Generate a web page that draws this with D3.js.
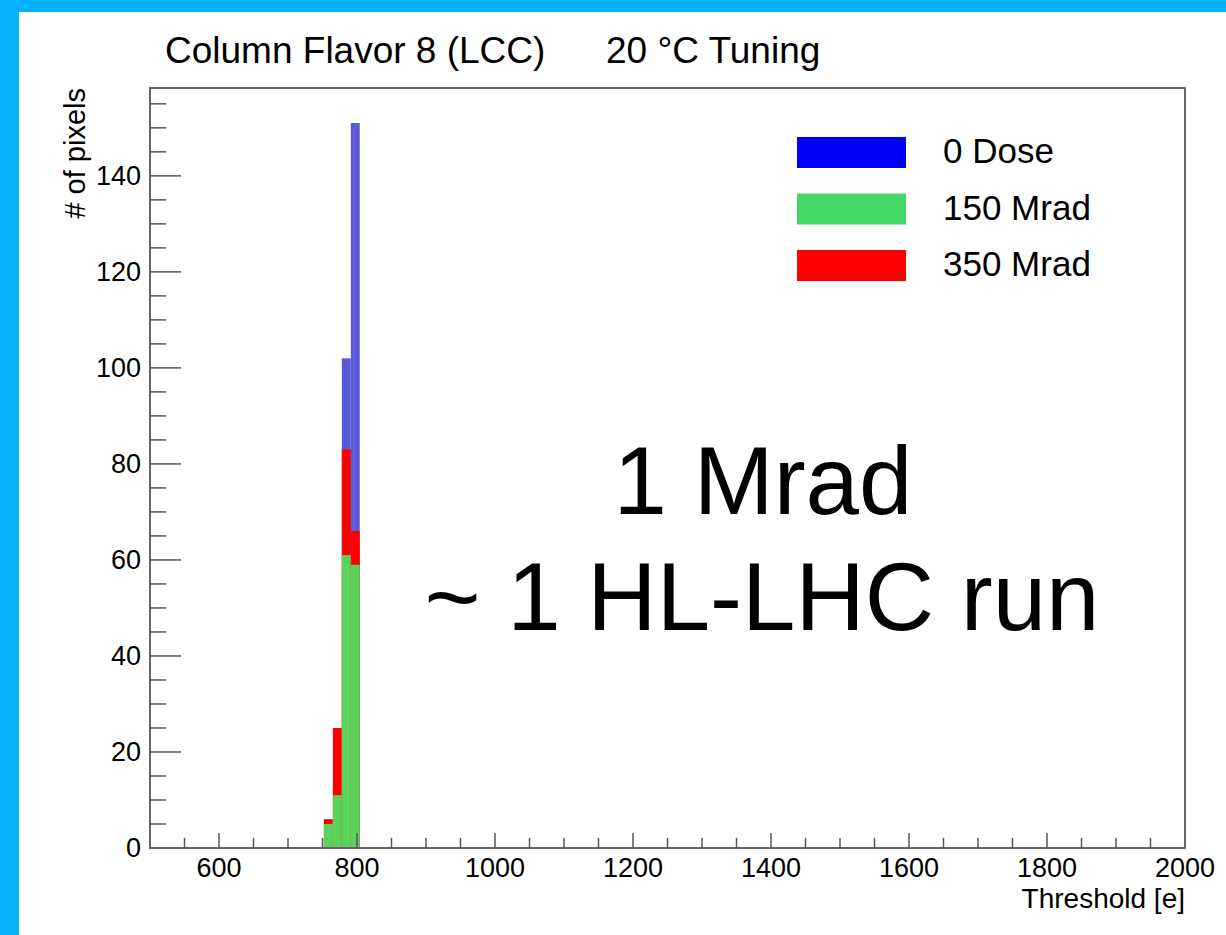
<!DOCTYPE html>
<html>
  <head>
    <meta charset="utf-8" />
    <title>Column Flavor 8 (LCC)</title>
    <script src="https://d3js.org/d3.v7.min.js"></script>
    <style>
      body { margin: 0; background: #fff; }
      text { font-family: 'Liberation Sans', Arial, sans-serif; fill: #000; }
    </style>
  </head>
  <body>
    <script>
      // histogram bins (threshold in electrons) and counts per dose
      const binEdges = [752, 765, 778, 791, 804];
      const dose0 = [0, 0, 102, 151];
      const dose150 = [5, 11, 61, 59];
      const dose350 = [6, 25, 83, 66];
      const xTicks = [600, 800, 1000, 1200, 1400, 1600, 1800, 2000];
      const yTicks = [0, 20, 40, 60, 80, 100, 120, 140];
      const legendLabels = ['0 Dose', '150 Mrad', '350 Mrad'];

      const W = 1226, H = 935;
      const margin = { top: 88, right: 41, bottom: 87, left: 150 };
      const w = W - margin.left - margin.right;
      const h = H - margin.top - margin.bottom;

      const svg = d3.select('body').append('svg')
        .attr('width', W)
        .attr('height', H);

      // blue slide frame
      svg.append('rect').attr('x', 0).attr('y', 0).attr('width', W).attr('height', 12).attr('fill', '#02b3fb');
      svg.append('rect').attr('x', 0).attr('y', 0).attr('width', 19).attr('height', H).attr('fill', '#02b3fb');

      const g = svg.append('g')
        .attr('transform', 'translate(' + margin.left + ',' + margin.top + ')');

      const x = d3.scaleLinear().domain([500, 2000]).range([0, w]);
      const y = d3.scaleLinear().domain([0, 158.3]).range([h, 0]);

      // histograms drawn over each other: blue, red, green
      const series = [
        { vals: dose0, color: '#5a5ad9' },
        { vals: dose350, color: '#ff0000' },
        { vals: dose150, color: '#5ad35a' },
      ];
      series.forEach(s => {
        g.selectAll(null)
          .data(s.vals)
          .enter()
          .append('rect')
          .attr('x', (d, i) => x(binEdges[i]))
          .attr('width', (d, i) => x(binEdges[i + 1]) - x(binEdges[i]))
          .attr('y', d => y(d))
          .attr('height', d => h - y(d))
          .attr('fill', s.color);
      });

      // frame
      g.append('rect')
        .attr('width', w).attr('height', h)
        .attr('fill', 'none')
        .attr('stroke', '#666')
        .attr('stroke-width', 2);

      // x axis ticks
      g.selectAll(null)
        .data(d3.range(550, 2000, 50))
        .enter()
        .append('line')
        .attr('x1', d => x(d)).attr('x2', d => x(d))
        .attr('y1', h)
        .attr('y2', d => h - (d % 200 === 0 ? 15 : 10))
        .attr('stroke', '#555')
        .attr('stroke-width', 1.5);

      g.selectAll(null)
        .data(xTicks)
        .enter()
        .append('text')
        .attr('x', d => x(d))
        .attr('y', h + 29)
        .attr('text-anchor', 'middle')
        .style('font-size', '27px')
        .text(d => d);

      g.append('text')
        .attr('x', w)
        .attr('y', h + 60)
        .attr('text-anchor', 'end')
        .style('font-size', '28px')
        .text('Threshold [e]');

      // y axis ticks
      g.selectAll(null)
        .data(d3.range(5, 158, 5))
        .enter()
        .append('line')
        .attr('y1', d => y(d)).attr('y2', d => y(d))
        .attr('x1', 0)
        .attr('x2', d => (d % 20 === 0 ? 31 : 16))
        .attr('stroke', '#555')
        .attr('stroke-width', 1.5);

      g.selectAll(null)
        .data(yTicks)
        .enter()
        .append('text')
        .attr('x', -9)
        .attr('y', d => y(d))
        .attr('dy', '0.35em')
        .attr('text-anchor', 'end')
        .style('font-size', '27px')
        .text(d => d);

      g.append('text')
        .attr('transform', 'translate(-65,0) rotate(-90)')
        .attr('text-anchor', 'end')
        .style('font-size', '29px')
        .text('# of pixels');

      // title
      svg.append('text')
        .attr('x', 165).attr('y', 63)
        .style('font-size', '37px')
        .text('Column Flavor 8 (LCC)');
      svg.append('text')
        .attr('x', 606).attr('y', 63)
        .style('font-size', '37px')
        .text('20 °C Tuning');

      // legend
      const legendColors = ['#0000ff', '#45d565', '#ff0000'];
      const lg = svg.append('g').attr('transform', 'translate(797,137)');
      legendLabels.forEach((lab, i) => {
        lg.append('rect')
          .attr('x', 0).attr('y', i * 56.5)
          .attr('width', 109).attr('height', 31)
          .attr('fill', legendColors[i]);
        lg.append('text')
          .attr('x', 146).attr('y', i * 56.5 + 26)
          .style('font-size', '35px')
          .text(lab);
      });

      // annotation
      svg.append('text')
        .attr('x', 763).attr('y', 514)
        .attr('text-anchor', 'middle')
        .style('font-size', '96px')
        .text('1 Mrad');
      svg.append('text')
        .attr('x', 762).attr('y', 630)
        .attr('text-anchor', 'middle')
        .style('font-size', '96px')
        .text('~ 1 HL-LHC run');
    </script>
  </body>
</html>
